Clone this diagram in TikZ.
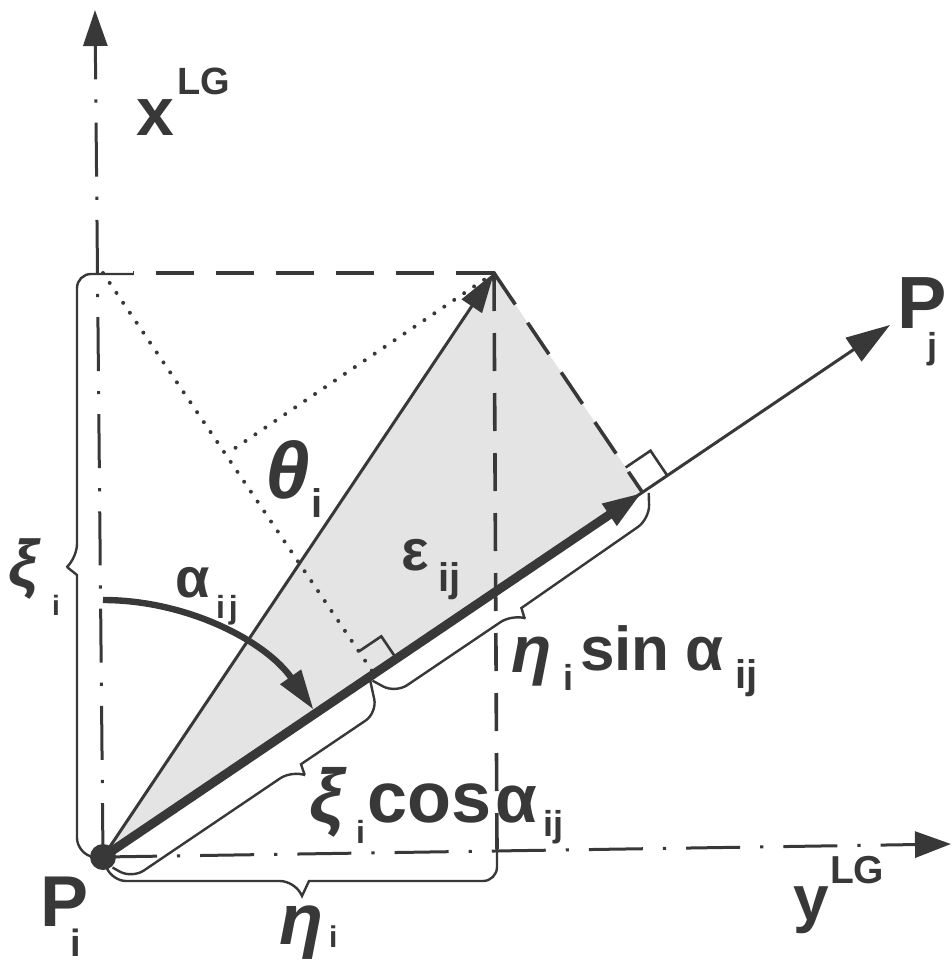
\documentclass[tikz,border=0pt]{standalone}
\usepackage{fontspec}
\setmainfont{Liberation Sans}
\usetikzlibrary{arrows.meta}
\definecolor{ink}{HTML}{383838}
\definecolor{shadefill}{HTML}{E4E4E4}
\begin{document}
\begin{tikzpicture}[x=0.5pt,y=-0.5pt,
  lab/.style={inner sep=0pt, outer sep=0pt, anchor=base west, text=ink, font={\bfseries\fontsize{#1}{#1}\selectfont}},
  glab/.style={inner sep=0pt, outer sep=0pt, anchor=base west, text=ink, font={\bfseries\itshape\fontsize{#1}{#1}\selectfont}},
  axisln/.style={draw=ink, line width=1.5pt, dash pattern=on 27pt off 10pt on 1.6pt off 10pt},
  dashln/.style={draw=ink, line width=1.8pt, dash pattern=on 19pt off 11pt},
  dotln/.style={draw=ink, line width=2pt, line cap=round, dash pattern=on 0pt off 6pt},
  thinln/.style={draw=ink, line width=1.5pt},
  bracel/.style={draw=ink, line width=1.2pt, rounded corners=7pt},
  sq/.style={draw=ink, line width=1.3pt}
]
\useasboundingbox (0,0) rectangle (952,963);

% key points
\coordinate (Pi) at (103,857);
\coordinate (T) at (494,273);
\coordinate (F) at (642.4,492.4);
\coordinate (Pj) at (890,325);
\coordinate (C) at (103,273);
\coordinate (Ctop) at (133,273);
\coordinate (G) at (374.0,673.8);
\coordinate (H) at (225.7,454.4);
\coordinate (Xtop) at (95,10);
\coordinate (Yend) at (951,844);
\coordinate (TB) at (497,849);
\coordinate (As) at (103,600);

% shaded triangle
\fill[shadefill] (Pi) -- (T) -- (F) -- cycle;

% axes
\draw[axisln, -{Triangle[length=18pt,width=12pt]}] (Pi) -- (Xtop);
\draw[axisln, -{Triangle[length=18pt,width=13pt]}] (Pi) -- (Yend);

% dashed construction lines
\draw[dashln] (T) -- (Ctop);
\draw[dashln] (T) -- (TB);
\draw[dashln] (T) -- (F);

% dotted construction lines
\draw[dotln] (C) -- (G);
\draw[dotln] (T) -- (H);

% right angle marks
\draw[sq] (358.9,651.4) -- (381.3,636.3) -- (396.4,658.7);
\draw[sq] (625.6,467.5) -- (650.5,450.7) -- (667.3,475.6);

% vectors
\draw[thinln, -{Triangle[length=22pt,width=14pt]}] (Pi) -- (Pj);
\draw[thinln, -{Triangle[length=20pt,width=12pt]}] (Pi) -- (T);
\draw[draw=ink, line width=4.5pt, -{Triangle[length=20pt,width=12pt]}] (Pi) -- (F);

% alpha arc
\draw[draw=ink, line width=3.2pt, -{Triangle[length=20pt,width=12pt]}] (As) arc[start angle=-90, end angle=-35, radius=257];

% braces
\draw[bracel] (133,274) -- (77,274) -- (77,558) [sharp corners] -- (67,567) -- (77,575) [rounded corners=7pt] -- (77,852) -- (96,858);
\draw[bracel] (106,866) -- (112,881) -- (294,881) [sharp corners] -- (302,896) -- (309,881) [rounded corners=7pt] -- (497,881) -- (TB);
\draw[bracel] (112.5,867.5) -- (132.0,878.5) -- (291.9,770.4) [sharp corners] -- (304.7,775.0) -- (301.0,764.2) [rounded corners=7pt] -- (377.2,712.7) -- (370.3,681.1);
\draw[bracel] (372.6,680.7) -- (395.4,693.1) -- (512.2,614.2) [sharp corners] -- (524.5,618.0) -- (521.4,608.0) [rounded corners=7pt] -- (649.5,518.9) -- (648.7,492.9);

% point Pi
\fill[ink] (Pi) circle[radius=6.5pt];

% labels
\node[lab=34pt] (xl) at (136,135) {x};
\node[lab=19pt] (xlg) at (177,95) {LG};
\node[lab=37pt] (pjl) at (897,328) {P};
\node[lab=18pt] (pjs) at (927,358) {j};
\node[glab=40pt] (thl) at (265,498) {θ};
\node[lab=20pt] (ths) at (311,517) {i};
\node[lab=28pt] (al) at (175,597) {α};
\node[lab=16pt] (as) at (216,618) {i\kern2pt j};
\node[lab=29pt] (el) at (401,570) {ε};
\node[lab=20pt] (es) at (438,591) {ij};
\node[glab=33pt] (etal) at (511,672) {η};
\node[lab=18pt] (etas) at (563,690) {i};
\node[lab=31pt] (sinl) at (580,670) {sin};
\node[lab=31pt] (sal) at (685,670) {α};
\node[lab=20pt] (sas) at (735,688) {ij};
\node[glab=38pt] (xil) at (309,822) {ξ};
\node[lab=16pt] (xis) at (356,843) {i};
\node[lab=36pt] (cosl) at (367,822) {cos};
\node[lab=34pt] (cal) at (495,822) {α};
\node[lab=18pt] (cas) at (543,836) {ij};
\node[glab=33pt] (xil2) at (9,586) {ξ};
\node[lab=14pt] (xis2) at (52,615) {i};
\node[glab=36pt] (etal2) at (279,944) {η};
\node[lab=15pt] (etas2) at (329,947) {i};
\node[lab=36pt] (pil) at (40,926) {P};
\node[lab=19pt] (pis) at (70,956) {i};
\node[lab=32pt] (yl) at (793,920) {y};
\node[lab=19.5pt] (ylg) at (830,883) {LG};
\end{tikzpicture}
\end{document}
